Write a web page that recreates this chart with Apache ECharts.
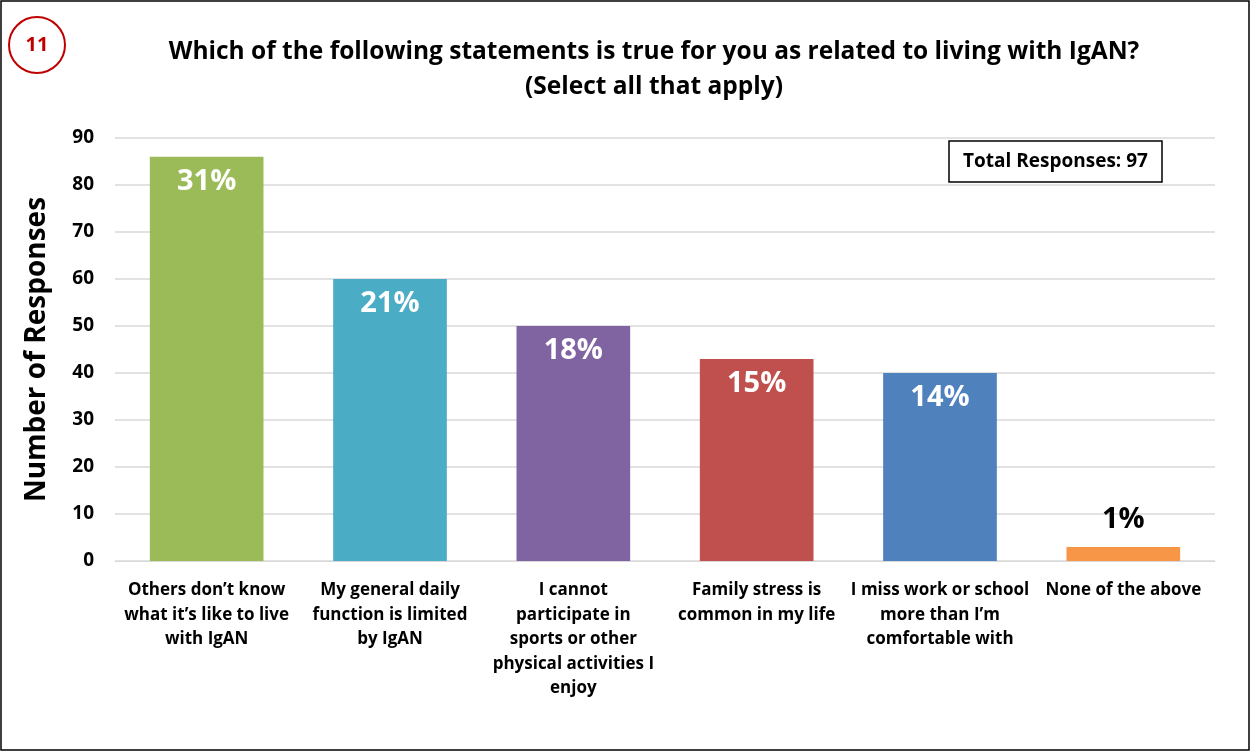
<!DOCTYPE html>
<html><head><meta charset="utf-8">
<script src="https://cdn.jsdelivr.net/npm/echarts@6/dist/echarts.min.js"></script>
<style>html,body{margin:0;padding:0;background:#fff}#c{width:1251px;height:752px}</style>
</head><body><div id="c"></div>
<script>
const categories = [
  "Others don\u2019t know\nwhat it\u2019s like to live\nwith IgAN",
  "My general daily\nfunction is limited\nby IgAN",
  "I cannot\nparticipate in\nsports or other\nphysical activities I\nenjoy",
  "Family stress is\ncommon in my life",
  "I miss work or school\nmore than I\u2019m\ncomfortable with",
  "None of the above"
];
const values = [86, 60, 50, 43, 40, 3];
const percentLabels = ["31%", "21%", "18%", "15%", "14%", "1%"];
const barColors = ["#9BBB59", "#4BACC6", "#8064A2", "#C0504D", "#4F81BD", "#F79646"];
const yTicks = [0, 10, 20, 30, 40, 50, 60, 70, 80, 90];

const FONT = "Open Sans";
const chart = echarts.init(document.getElementById('c'), null, {renderer: 'canvas'});
chart.setOption({
  animation: false,
  backgroundColor: '#fff',
  textStyle: {fontFamily: FONT},
  title: [{
    text: "Which of the following statements is true for you as related to living with IgAN?\n(Select all that apply)",
    left: 649, top: 30, textAlign: 'center',
    textStyle: {fontFamily: FONT, fontWeight: 'bold', fontSize: 24.5, lineHeight: 35, color: '#000'}
  }, {
    text: "Total Responses: 97",
    left: 949, top: 141,
    padding: [11, 14, 11, 14],
    borderColor: '#000', borderWidth: 1.5,
    textStyle: {fontFamily: FONT, fontWeight: 'bold', fontSize: 19, color: '#000'}
  }],
  graphic: [
    {type: 'rect', shape: {x: 1, y: 1, width: 1248, height: 749}, style: {fill: 'none', stroke: '#000', lineWidth: 1.5}, silent: true},
    {type: 'circle', shape: {cx: 37, cy: 45, r: 28}, style: {fill: '#fff', stroke: '#C00000', lineWidth: 2}},
    {type: 'text', x: 37, y: 45, style: {text: '11', fill: '#C00000', font: 'bold 20px ' + FONT, align: 'center', verticalAlign: 'middle'}}
  ],
  grid: {left: 115, right: 36, top: 138, bottom: 191},
  xAxis: {
    type: 'category', data: categories,
    axisLine: {show: true, lineStyle: {color: '#D9D9D9', width: 1}},
    axisTick: {show: false},
    axisLabel: {interval: 0, color: '#000', fontFamily: FONT, fontWeight: 'bold', fontSize: 17, lineHeight: 24.5, margin: 17}
  },
  yAxis: {
    type: 'value', min: 0, max: 90, interval: 10,
    name: 'Number of Responses', nameLocation: 'middle', nameGap: 64,
    nameTextStyle: {fontFamily: FONT, fontWeight: 'bold', fontSize: 28, color: '#000'},
    axisLine: {show: false}, axisTick: {show: false},
    splitLine: {lineStyle: {color: '#D9D9D9', width: 1.5}},
    axisLabel: {color: '#000', fontFamily: FONT, fontWeight: 'bold', fontSize: 19, margin: 21,
      formatter: v => yTicks.includes(v) ? String(v) : ''}
  },
  series: [{
    type: 'bar',
    data: values.map((v, i) => ({
      value: v,
      itemStyle: {color: barColors[i]},
      label: v < 10
        ? {show: true, position: 'top', distance: 13, color: '#000', formatter: percentLabels[i]}
        : {show: true, position: 'insideTop', distance: 10, color: '#fff', formatter: percentLabels[i]}
    })),
    barWidth: '62%',
    label: {fontFamily: FONT, fontWeight: 'bold', fontSize: 29}
  }]
});
</script></body></html>
